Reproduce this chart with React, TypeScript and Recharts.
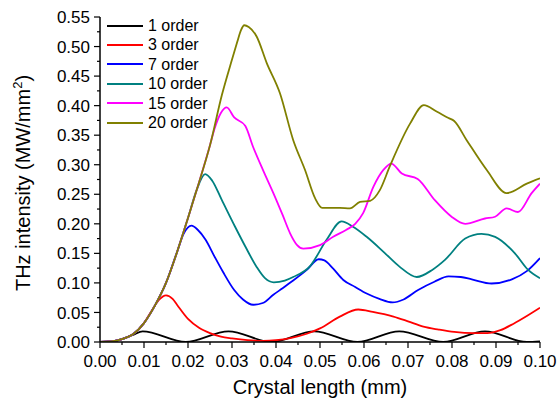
import { LineChart, Line, XAxis, YAxis, Legend } from 'recharts';

const seriesNames = ['1 order', '3 order', '7 order', '10 order', '15 order', '20 order'];
const seriesColors = ['#000000', '#ff0000', '#0000ff', '#008080', '#ff00ff', '#808000'];

const xTicks = [
  0, 0.005, 0.01, 0.015, 0.02, 0.025, 0.03, 0.035, 0.04, 0.045, 0.05,
  0.055, 0.06, 0.065, 0.07, 0.075, 0.08, 0.085, 0.09, 0.095, 0.1,
];
const yTicks = [
  0, 0.025, 0.05, 0.075, 0.1, 0.125, 0.15, 0.175, 0.2, 0.225, 0.25, 0.275,
  0.3, 0.325, 0.35, 0.375, 0.4, 0.425, 0.45, 0.475, 0.5, 0.525, 0.55,
];

// [crystal length (mm), intensity (MW/mm^2)]
const order1: [number, number][] = [
  [0, 0], [0.0025, 0.001], [0.005, 0.005], [0.0075, 0.012], [0.0097, 0.018],
  [0.0195, 0], [0.0292, 0.018], [0.039, 0], [0.0487, 0.018], [0.0585, 0],
  [0.068, 0.018], [0.078, 0], [0.0875, 0.018], [0.097, 0], [0.1, 0.001],
];

const order3: [number, number][] = [
  [0, 0], [0.0025, 0.001], [0.005, 0.005], [0.0075, 0.013], [0.01, 0.032],
  [0.012, 0.056], [0.0135, 0.072], [0.015, 0.079], [0.0165, 0.073], [0.0175, 0.063],
  [0.02, 0.039], [0.0225, 0.024], [0.025, 0.015], [0.0275, 0.009], [0.03, 0.006],
  [0.0335, 0.003], [0.037, 0.002], [0.04, 0.003], [0.0435, 0.007], [0.047, 0.014],
  [0.05, 0.023], [0.0545, 0.043], [0.0587, 0.055], [0.062, 0.051], [0.0667, 0.043],
  [0.07, 0.035], [0.0735, 0.026], [0.077, 0.021], [0.0805, 0.017], [0.085, 0.015],
  [0.088, 0.015], [0.091, 0.02], [0.094, 0.031], [0.097, 0.044], [0.1, 0.058],
];

const order7: [number, number][] = [
  [0, 0], [0.0025, 0.001], [0.005, 0.005], [0.0075, 0.013], [0.01, 0.032],
  [0.0125, 0.062], [0.015, 0.1], [0.0175, 0.152], [0.019, 0.183], [0.0208, 0.197],
  [0.0222, 0.19], [0.024, 0.173], [0.026, 0.145], [0.028, 0.118], [0.0305, 0.088],
  [0.0325, 0.072], [0.0348, 0.063], [0.037, 0.066], [0.0394, 0.08], [0.0415, 0.091],
  [0.0439, 0.104], [0.047, 0.122], [0.0497, 0.14], [0.051, 0.138], [0.053, 0.124],
  [0.0553, 0.105], [0.058, 0.093], [0.0606, 0.082], [0.0635, 0.073], [0.0665, 0.067],
  [0.069, 0.072], [0.0723, 0.088], [0.076, 0.102], [0.0792, 0.111], [0.082, 0.11],
  [0.0845, 0.106], [0.089, 0.099], [0.0936, 0.106], [0.097, 0.12], [0.1, 0.142],
];

const order10: [number, number][] = [
  [0, 0], [0.0025, 0.001], [0.005, 0.005], [0.0075, 0.013], [0.01, 0.032],
  [0.0125, 0.062], [0.015, 0.1], [0.0175, 0.152], [0.02, 0.21], [0.022, 0.258],
  [0.0239, 0.284], [0.0255, 0.273], [0.0277, 0.24], [0.0307, 0.195], [0.033, 0.162],
  [0.0356, 0.127], [0.0375, 0.108], [0.0395, 0.101], [0.042, 0.104], [0.0439, 0.11],
  [0.0477, 0.128], [0.0515, 0.173], [0.0549, 0.204], [0.0575, 0.195], [0.0606, 0.178],
  [0.0648, 0.15], [0.068, 0.128], [0.072, 0.11], [0.0755, 0.122], [0.0784, 0.139],
  [0.083, 0.175], [0.0867, 0.183], [0.0898, 0.178], [0.0943, 0.15], [0.0973, 0.122],
  [0.1, 0.108],
];

const order15: [number, number][] = [
  [0, 0], [0.0025, 0.001], [0.005, 0.005], [0.0075, 0.013], [0.01, 0.032],
  [0.0125, 0.062], [0.015, 0.1], [0.0175, 0.152], [0.02, 0.21], [0.0225, 0.27],
  [0.025, 0.333], [0.026, 0.36], [0.0275, 0.388], [0.0288, 0.397], [0.0305, 0.38],
  [0.033, 0.366], [0.0348, 0.33], [0.0371, 0.29], [0.0394, 0.252], [0.0415, 0.215],
  [0.0432, 0.184], [0.0448, 0.164], [0.0462, 0.158], [0.05, 0.164], [0.053, 0.178],
  [0.056, 0.19], [0.058, 0.2], [0.0598, 0.218], [0.0621, 0.262], [0.0645, 0.292],
  [0.0662, 0.302], [0.0686, 0.285], [0.0722, 0.276], [0.0761, 0.24], [0.0799, 0.212],
  [0.083, 0.2], [0.0875, 0.209], [0.0898, 0.212], [0.0924, 0.226], [0.095, 0.22],
  [0.0981, 0.252], [0.1, 0.268],
];

const order20: [number, number][] = [
  [0, 0], [0.0025, 0.001], [0.005, 0.005], [0.0075, 0.013], [0.01, 0.032],
  [0.0125, 0.062], [0.015, 0.1], [0.0175, 0.152], [0.02, 0.21], [0.0225, 0.27],
  [0.025, 0.333], [0.0277, 0.418], [0.03, 0.478], [0.0312, 0.508], [0.032, 0.527],
  [0.0328, 0.536], [0.0338, 0.533], [0.0356, 0.517], [0.0379, 0.472], [0.0409, 0.421],
  [0.0439, 0.342], [0.0466, 0.291], [0.0489, 0.243], [0.0505, 0.227], [0.0545, 0.227],
  [0.0568, 0.226], [0.0591, 0.237], [0.0614, 0.239], [0.0636, 0.257], [0.0659, 0.298],
  [0.0705, 0.37], [0.0736, 0.401], [0.0765, 0.39], [0.0792, 0.379], [0.0805, 0.374],
  [0.0833, 0.342], [0.0879, 0.291], [0.0924, 0.252], [0.097, 0.268], [0.1, 0.277],
];

const seriesData = [order1, order3, order7, order10, order15, order20].map((pts) =>
  pts.map(([x, y]) => ({ x, y }))
);

const font = '"Liberation Sans", Arial, sans-serif';

function XTick({ x, y, payload, index }: any) {
  const major = index % 2 === 0;
  return (
    <g>
      <line x1={x} x2={x} y1={y} y2={y + (major ? 6 : 3)} stroke="#000" strokeWidth={1.2} />
      {major && (
        <text x={x} y={y + 25} textAnchor="middle" fontSize={17} fontFamily={font} fill="#000">
          {Number(payload.value).toFixed(2)}
        </text>
      )}
    </g>
  );
}

function YTick({ x, y, payload, index }: any) {
  const major = index % 2 === 0;
  return (
    <g>
      <line x1={x - (major ? 6 : 3)} x2={x} y1={y} y2={y} stroke="#000" strokeWidth={1.2} />
      {major && (
        <text x={x - 10} y={y} dy="0.36em" textAnchor="end" fontSize={17} fontFamily={font} fill="#000">
          {Number(payload.value).toFixed(2)}
        </text>
      )}
    </g>
  );
}

function LegendBox() {
  return (
    <div style={{ fontFamily: font, fontSize: 16, color: '#000' }}>
      {seriesNames.map((name, i) => (
        <div key={name} style={{ height: 19.4, display: 'flex', alignItems: 'center' }}>
          <svg width={36} height={4} style={{ display: 'block' }}>
            <line x1={0} x2={36} y1={2} y2={2} stroke={seriesColors[i]} strokeWidth={2} />
          </svg>
          <span style={{ marginLeft: 5, lineHeight: '19.4px' }}>{name}</span>
        </div>
      ))}
    </div>
  );
}

export default function App() {
  return (
    <div style={{ position: 'absolute', left: 0, top: 0, width: 558, height: 404, background: '#fff' }}>
      <LineChart width={558} height={404} margin={{ top: 17, right: 18, bottom: 0, left: 0 }}>
        <XAxis
          type="number"
          dataKey="x"
          domain={[0, 0.1]}
          ticks={xTicks}
          interval={0}
          height={62}
          tickSize={0}
          tickMargin={0}
          tick={<XTick />}
          axisLine={{ stroke: '#000', strokeWidth: 1.5 }}
          allowDataOverflow
          label={{
            value: 'Crystal length (mm)',
            position: 'insideBottom',
            offset: 10,
            fontSize: 20,
            fontFamily: font,
            fill: '#000',
          }}
        />
        <YAxis
          type="number"
          domain={[0, 0.55]}
          ticks={yTicks}
          interval={0}
          width={100}
          tickSize={0}
          tickMargin={0}
          tick={<YTick />}
          axisLine={{ stroke: '#000', strokeWidth: 1.5 }}
          allowDataOverflow
          label={() => (
            <text
              x={30}
              y={183}
              transform="rotate(-90 30 183)"
              textAnchor="middle"
              fontSize={20}
              fontFamily={font}
              fill="#000"
            >
              THz intensity (MW/mm
              <tspan dy={-8} fontSize={13}>2</tspan>
              <tspan dy={8}>)</tspan>
            </text>
          )}
        />
        <Legend
          layout="vertical"
          align="center"
          verticalAlign="middle"
          content={<LegendBox />}
          wrapperStyle={{ left: 107, top: 16, width: 'auto', height: 'auto' }}
        />
        {seriesData.map((pts, i) => (
          <Line
            key={seriesNames[i]}
            data={pts}
            dataKey="y"
            name={seriesNames[i]}
            type="monotone"
            stroke={seriesColors[i]}
            strokeWidth={1.8}
            dot={false}
            activeDot={false}
            isAnimationActive={false}
          />
        ))}
      </LineChart>
    </div>
  );
}
